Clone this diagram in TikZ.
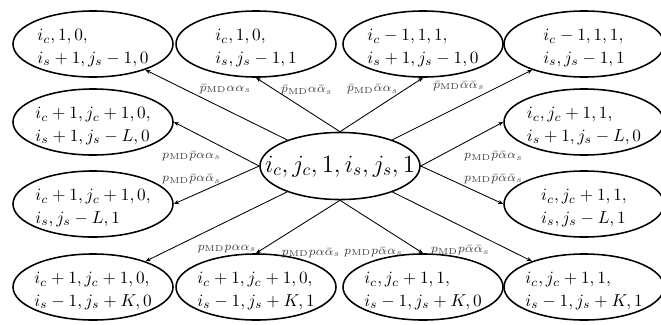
\documentclass[tikz,border=0pt]{standalone}
\usetikzlibrary{shapes.geometric,arrows.meta}
\newcommand\twol[2]{\makebox[0pt][c]{\raisebox{-4.5pt}[0pt][0pt]{\def\arraystretch{1.05}\begin{tabular}{@{}l@{}}#1\\#2\end{tabular}}}}
\newcommand\onel[1]{\makebox[0pt][c]{\raisebox{-3.5pt}[0pt][0pt]{#1}}}
\begin{document}
\begin{tikzpicture}[x=0.58pt,y=-0.58pt,
  st/.style={ellipse,draw,line width=0.9pt,inner sep=0pt,minimum width=92.8pt,minimum height=38.3pt,font=\fontsize{10.4}{12.5}\selectfont},
  ctr/.style={ellipse,draw,line width=0.9pt,inner sep=0pt,minimum width=92.8pt,minimum height=38.9pt,font=\Large},
  conn/.style={line width=0.5pt,-{Stealth[length=3pt,width=2.4pt]}},
  lab/.style={font=\fontsize{7.4}{9}\selectfont,text=black!75,inner sep=1pt}]
\useasboundingbox (0,0) rectangle (661,324);
\node[ctr] (c) at (340,166) {\onel{$i_c,j_c,1,i_s,j_s,1$}};
\node[st] (t1) at (93,44) {\twol{$i_c,1,0,$}{$i_s+1,j_s-1,0$}};
\node[st] (t2) at (256,44) {\twol{$i_c,1,0,$}{$i_s,j_s-1,1$}};
\node[st] (t3) at (423,44) {\twol{$i_c-1,1,1,$}{$i_s+1,j_s-1,0$}};
\node[st] (t4) at (584,44) {\twol{$i_c-1,1,1,$}{$i_s,j_s-1,1$}};
\node[st] (l2) at (93,122) {\twol{$i_c+1,j_c+1,0,$}{$i_s+1,j_s-L,0$}};
\node[st] (l3) at (93,204) {\twol{$i_c+1,j_c+1,0,$}{$i_s,j_s-L,1$}};
\node[st] (r2) at (584,122) {\twol{$i_c,j_c+1,1,$}{$i_s+1,j_s-L,0$}};
\node[st] (r3) at (584,204) {\twol{$i_c,j_c+1,1,$}{$i_s,j_s-L,1$}};
\node[st] (b1) at (93,287) {\twol{$i_c+1,j_c+1,0,$}{$i_s-1,j_s+K,0$}};
\node[st] (b2) at (256,287) {\twol{$i_c+1,j_c+1,0,$}{$i_s-1,j_s+K,1$}};
\node[st] (b3) at (423,287) {\twol{$i_c,j_c+1,1,$}{$i_s-1,j_s+K,0$}};
\node[st] (b4) at (584,287) {\twol{$i_c,j_c+1,1,$}{$i_s-1,j_s+K,1$}};
\draw[conn] (c) -- node[lab,pos=0.633,anchor=south west]{$\bar p_{\mathrm{MD}}\alpha\alpha_s$} (t1);
\draw[conn] (c.north) -- node[lab,pos=0.77,anchor=west,xshift=2pt]{$\bar p_{\mathrm{MD}}\alpha\bar\alpha_s$} (t2.south);
\draw[conn] (c.north) -- node[lab,pos=0.79,anchor=east,xshift=-3pt]{$\bar p_{\mathrm{MD}}\bar\alpha\alpha_s$} (t3.south);
\draw[conn] (c) -- node[lab,pos=0.675,anchor=south east]{$\bar p_{\mathrm{MD}}\bar\alpha\bar\alpha_s$} (t4);
\draw[conn] (c.west) -- node[lab,pos=0.425,anchor=east,yshift=-5pt]{$p_{\mathrm{MD}}\bar p\alpha\alpha_s$} (l2.east);
\draw[conn] (c.west) -- node[lab,pos=0.425,anchor=east,yshift=1.5pt]{$p_{\mathrm{MD}}\bar p\alpha\bar\alpha_s$} (l3.east);
\draw[conn] (c.east) -- node[lab,pos=0.5,anchor=west,yshift=-7pt]{$p_{\mathrm{MD}}\bar p\bar\alpha\alpha_s$} (r2.west);
\draw[conn] (c.east) -- node[lab,pos=0.5,anchor=west,yshift=3.5pt]{$p_{\mathrm{MD}}\bar p\bar\alpha\bar\alpha_s$} (r3.west);
\draw[conn] (c) -- node[lab,pos=0.647,anchor=north west,yshift=-3.5pt]{$p_{\mathrm{MD}}p\alpha\alpha_s$} (b1);
\draw[conn] (c.south) -- node[lab,pos=0.945,anchor=west,xshift=11pt,yshift=-1.5pt]{$p_{\mathrm{MD}}p\alpha\bar\alpha_s$} (b2.north);
\draw[conn] (c.south) -- node[lab,pos=0.927,anchor=east,xshift=-7pt,yshift=-1.5pt]{$p_{\mathrm{MD}}p\bar\alpha\alpha_s$} (b3.north);
\draw[conn] (c) -- node[lab,pos=0.81,anchor=east,xshift=-8pt,yshift=-1.5pt]{$p_{\mathrm{MD}}p\bar\alpha\bar\alpha_s$} (b4);
\end{tikzpicture}
\end{document}
